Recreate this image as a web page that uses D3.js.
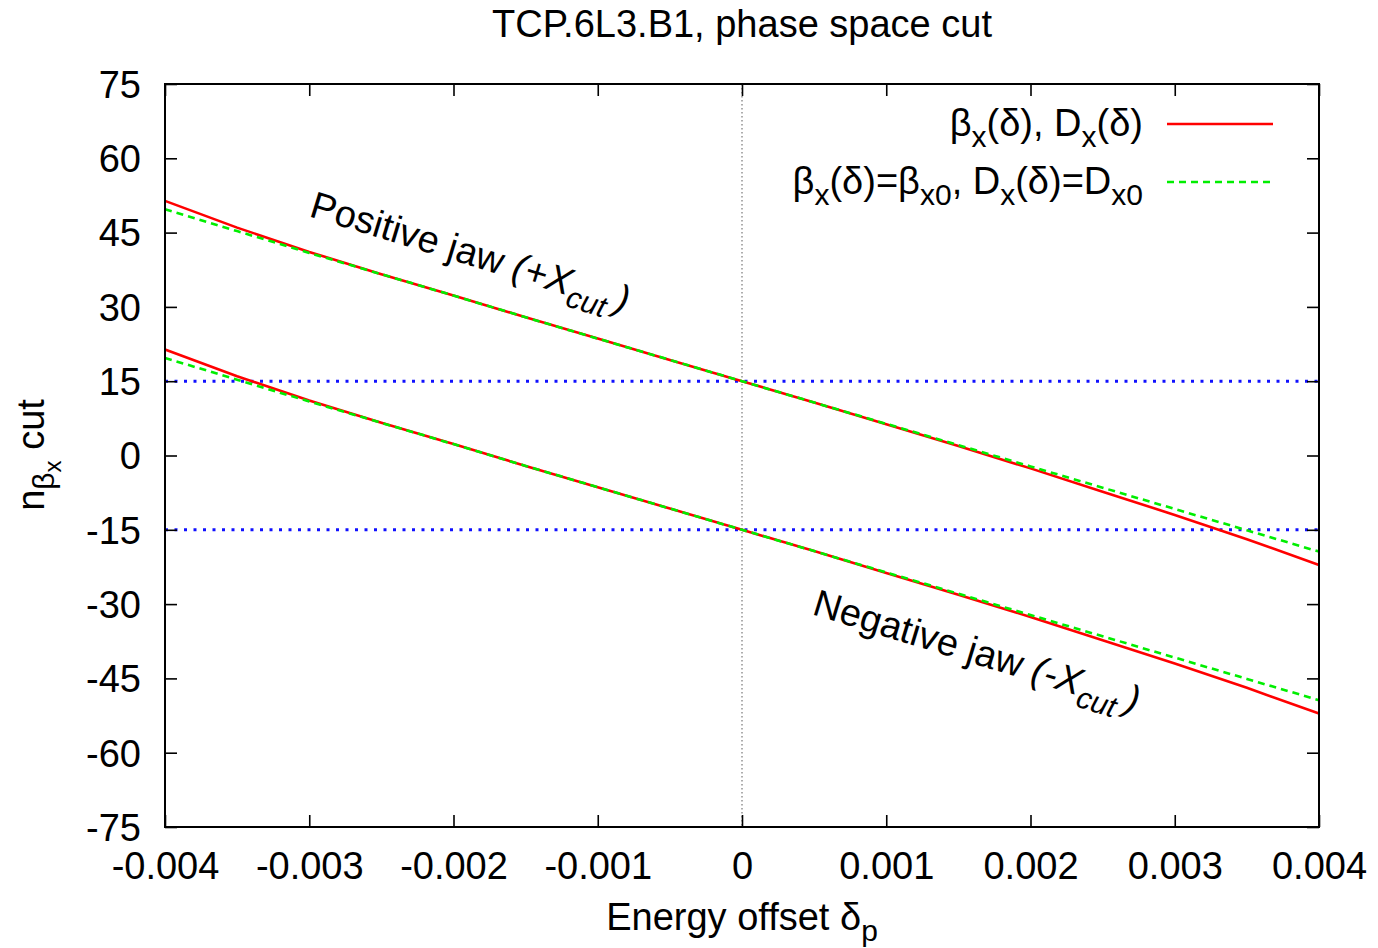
<!DOCTYPE html>
<html>
<head>
<meta charset="utf-8">
<script src="https://cdn.jsdelivr.net/npm/d3@7"></script>
<style>
  body { margin: 0; background: #fff; }
  text { font-family: "Liberation Sans", Arial, sans-serif; fill: #000; }
</style>
</head>
<body>
<script>
const width = 1378, height = 948;
const margin = { left: 165, right: 59, top: 84, bottom: 121 };

// energy offset samples (delta_p)
const deltas = [-0.004, -0.0035, -0.003, -0.0025, -0.002, -0.0015, -0.001, -0.0005, 0,
  0.0005, 0.001, 0.0015, 0.002, 0.0025, 0.003, 0.0035, 0.004];

// beta_x(delta), D_x(delta)
const redPos = [51.4, 46.0, 41.1, 36.6, 32.3, 27.9, 23.6, 19.3, 15, 10.7, 6.3, 1.9, -2.6, -7.3, -12.0, -16.9, -22.1];
const redNeg = [21.4, 16.0, 11.1, 6.6, 2.3, -2.1, -6.4, -10.7, -15, -19.3, -23.7, -28.1, -32.6, -37.3, -42.0, -46.9, -52.1];
// beta_x(delta)=beta_x0, D_x(delta)=D_x0
const greenPos = [49.7, 45.3, 40.9, 36.6, 32.3, 27.9, 23.6, 19.3, 15, 10.7, 6.4, 2.1, -2.2, -6.5, -10.8, -15.1, -19.4];
const greenNeg = [19.7, 15.3, 10.9, 6.6, 2.3, -2.1, -6.4, -10.7, -15, -19.3, -23.6, -27.9, -32.2, -36.5, -40.8, -45.1, -49.4];

const cutLevels = [15, -15];

const xTicks = [-0.004, -0.003, -0.002, -0.001, 0, 0.001, 0.002, 0.003, 0.004];
const xTickLabels = ["-0.004", "-0.003", "-0.002", "-0.001", "0", "0.001", "0.002", "0.003", "0.004"];
const yTicks = [75, 60, 45, 30, 15, 0, -15, -30, -45, -60, -75];
const yTickLabels = ["75", "60", "45", "30", "15", "0", "-15", "-30", "-45", "-60", "-75"];

const svg = d3.select("body").append("svg")
  .attr("width", width)
  .attr("height", height);

const x = d3.scaleLinear().domain([-0.004, 0.004]).range([margin.left, width - margin.right]);
const y = d3.scaleLinear().domain([-75, 75]).range([height - margin.bottom, margin.top]);

const fs = 38;

// title
svg.append("text")
  .attr("x", 742).attr("y", 37)
  .attr("text-anchor", "middle")
  .style("font-size", fs + "px")
  .text("TCP.6L3.B1, phase space cut");

// zero line
svg.append("line")
  .attr("x1", x(0)).attr("x2", x(0))
  .attr("y1", y(75)).attr("y2", y(-75))
  .attr("stroke", "#777").attr("stroke-width", 1.2)
  .attr("stroke-dasharray", "1.5,2.5");

// cut levels
svg.selectAll(".cut").data(cutLevels).enter().append("line")
  .attr("class", "cut")
  .attr("x1", x(-0.004)).attr("x2", x(0.004))
  .attr("y1", d => y(d)).attr("y2", d => y(d))
  .attr("stroke", "#1010ff").attr("stroke-width", 3)
  .attr("stroke-dasharray", "3,6.5");

const line = d3.line()
  .x((d, i) => x(deltas[i]))
  .y(d => y(d));

[redPos, redNeg].forEach(s => {
  svg.append("path").datum(s)
    .attr("d", line)
    .attr("fill", "none")
    .attr("stroke", "#ff0000")
    .attr("stroke-width", 2.6);
});
[greenPos, greenNeg].forEach(s => {
  svg.append("path").datum(s)
    .attr("d", line)
    .attr("fill", "none")
    .attr("stroke", "#00ee00")
    .attr("stroke-width", 2.6)
    .attr("stroke-dasharray", "7,5");
});

// axes, ticks pointing inward on all four sides
const tick = 12;
const xAxis = svg.append("g")
  .attr("transform", `translate(0,${y(-75)})`)
  .call(d3.axisBottom(x).tickValues(xTicks).tickSize(-tick).tickPadding(tick + 12)
    .tickFormat((d, i) => xTickLabels[i]));
const yAxis = svg.append("g")
  .attr("transform", `translate(${x(-0.004)},0)`)
  .call(d3.axisLeft(y).tickValues(yTicks).tickSize(-tick).tickPadding(tick + 12)
    .tickFormat((d, i) => yTickLabels[i]));
svg.append("g")
  .attr("transform", `translate(0,${y(75)})`)
  .call(d3.axisTop(x).tickValues(xTicks).tickSize(-tick).tickFormat(""));
svg.append("g")
  .attr("transform", `translate(${x(0.004)},0)`)
  .call(d3.axisRight(y).tickValues(yTicks).tickSize(-tick).tickFormat(""));

svg.selectAll(".domain").remove();
svg.selectAll(".tick line").attr("stroke", "#000").attr("stroke-width", 1.6);
svg.selectAll(".tick text")
  .style("font-size", fs + "px")
  .style("font-family", "'Liberation Sans', Arial, sans-serif")
  .attr("fill", "#000");
xAxis.selectAll(".tick text").attr("dy", "0.71em").attr("y", 25);
yAxis.selectAll(".tick text").attr("dy", "0.35em").attr("x", -24);

// border
svg.append("rect")
  .attr("x", x(-0.004)).attr("y", y(75))
  .attr("width", x(0.004) - x(-0.004)).attr("height", y(-75) - y(75))
  .attr("fill", "none").attr("stroke", "#000").attr("stroke-width", 2);

// helper: text with sub parts
function rich(sel, parts, size) {
  parts.forEach(p => {
    const t = sel.append("tspan").text(p.t);
    if (p.sub) t.attr("baseline-shift", "-35%");
    if (p.sub || p.sub2) t.style("font-size", Math.round(size * 0.8) + "px");
    if (p.it) t.style("font-style", "italic");
  });
}

// axis labels
const xl = svg.append("text")
  .attr("x", 742).attr("y", 930)
  .attr("text-anchor", "middle")
  .style("font-size", fs + "px");
rich(xl, [{ t: "Energy offset δ" }, { t: "p", sub: true }], fs);

const yl = svg.append("text")
  .attr("transform", "translate(44,455) rotate(-90)")
  .attr("text-anchor", "middle")
  .style("font-size", fs + "px");
yl.append("tspan").text("n");
yl.append("tspan").text("β").attr("dy", 10).style("font-size", "30px");
yl.append("tspan").text("x").attr("dy", 7).style("font-size", "24px");
yl.append("tspan").text(" cut").attr("dy", -17);

// legend
const legend = [
  { parts: [{ t: "β" }, { t: "x", sub: true }, { t: "(δ), D" }, { t: "x", sub: true }, { t: "(δ)" }],
    color: "#ff0000", dash: null },
  { parts: [{ t: "β" }, { t: "x", sub: true }, { t: "(δ)=β" }, { t: "x0", sub: true }, { t: ", D" },
    { t: "x", sub: true }, { t: "(δ)=D" }, { t: "x0", sub: true }],
    color: "#00ee00", dash: "7,5" }
];
legend.forEach((l, i) => {
  const ly = 124 + i * 58;
  const t = svg.append("text")
    .attr("x", 1143).attr("y", ly + 12)
    .attr("text-anchor", "end")
    .style("font-size", fs + "px");
  rich(t, l.parts, fs);
  svg.append("line")
    .attr("x1", 1167).attr("x2", 1273)
    .attr("y1", ly).attr("y2", ly)
    .attr("stroke", l.color).attr("stroke-width", 2.6)
    .attr("stroke-dasharray", l.dash);
});

// jaw annotations
const pos = svg.append("text")
  .attr("transform", "translate(308,216) rotate(17)")
  .style("font-size", fs + "px");
rich(pos, [{ t: "Positive jaw " }, { t: "(+X", it: true }, { t: "cut", sub: true, it: true }, { t: "\u2009)", it: true }], fs);

const neg = svg.append("text")
  .attr("transform", "translate(811,614) rotate(17)")
  .style("font-size", fs + "px");
rich(neg, [{ t: "Negative jaw " }, { t: "(-X", it: true }, { t: "cut", sub: true, it: true }, { t: "\u2009)", it: true }], fs);
</script>
</body>
</html>
